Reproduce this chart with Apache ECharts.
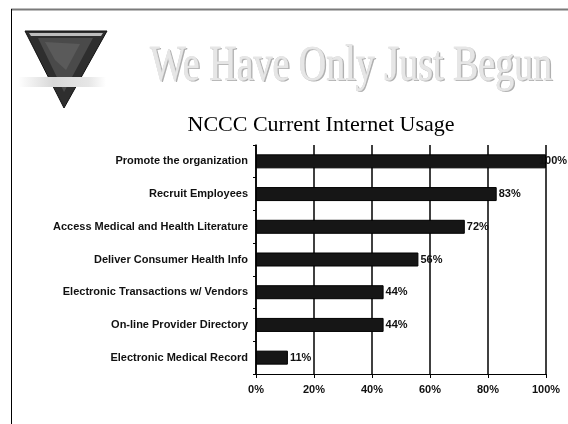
<!DOCTYPE html>
<html><head><meta charset="utf-8">
<script src="https://cdn.jsdelivr.net/npm/echarts@6/dist/echarts.min.js"></script>
<style>html,body{margin:0;padding:0;background:#fff}#c{width:568px;height:424px}</style>
</head><body><div id="c"></div>
<script>
const categories = ["Promote the organization","Recruit Employees","Access Medical and Health Literature","Deliver Consumer Health Info","Electronic Transactions w/ Vendors","On-line Provider Directory","Electronic Medical Record"];
const values = [100, 83, 72, 56, 44, 44, 11];
const xTicks = [0, 20, 40, 60, 80, 100];
const headline = "We Have Only Just Begun";
const chartTitle = "NCCC Current Internet Usage";

const chart = echarts.init(document.getElementById('c'), null, {renderer:'canvas'});
const lab = {fontFamily:'"Liberation Sans", Arial, sans-serif', fontWeight:'bold', fontSize:11, color:'#111'};
const serif = '"Liberation Serif", "Times New Roman", serif';
const seriesData = values.map((v, i) => i === 0 ? {value:v, label:{offset:[-9,0]}} : v);
chart.setOption({
  animation:false,
  backgroundColor:'#fff',
  grid:{left:256, right:22, top:145, bottom:50, containLabel:false},
  xAxis:{type:'value', min:xTicks[0], max:xTicks[xTicks.length-1], interval:20,
    axisLine:{show:true, lineStyle:{color:'#000', width:1}},
    axisTick:{show:true, length:4, lineStyle:{color:'#000'}},
    axisLabel:Object.assign({formatter:v=>v+'%', margin:10}, lab),
    splitLine:{show:true, lineStyle:{color:'#000', width:1.5}}},
  yAxis:{type:'category', data:categories, inverse:true,
    axisLine:{show:true, lineStyle:{color:'#000', width:1.5}},
    axisTick:{show:true, length:3, lineStyle:{color:'#000'}},
    axisLabel:Object.assign({margin:8}, lab)},
  series:[{type:'bar', data:seriesData, barWidth:14,
    itemStyle:{color:'#161616', borderColor:'#000', borderWidth:1},
    label:Object.assign({show:true, position:'right', distance:2, formatter:p=>p.value+'%'}, lab)}],
  graphic:[
    {type:'line', shape:{x1:11, y1:9.5, x2:568, y2:9.5}, style:{stroke:'#7a7a7a', lineWidth:2}},
    {type:'line', shape:{x1:11.5, y1:9, x2:11.5, y2:424}, style:{stroke:'#000', lineWidth:1}},
    {type:'polygon', shape:{points:[[25,31],[107,31],[64,108]]}, style:{fill:'#2e2e2e', stroke:'#111', lineWidth:1}},
    {type:'polygon', shape:{points:[[29,33],[103,33],[101,36],[31,36]]}, style:{fill:'#bdbdbd'}},
    {type:'polygon', shape:{points:[[38,38],[93,38],[64,92]]}, style:{fill:'#4a4a4a'}},
    {type:'polygon', shape:{points:[[45,42],[80,44],[66,70],[55,60]]}, style:{fill:'#5e5e5e', opacity:0.8}},
    {type:'rect', shape:{x:18, y:77, width:88, height:10}, style:{fill:{type:'linear', x:0, y:0, x2:1, y2:0,
      colorStops:[{offset:0,color:'#ffffff'},{offset:0.4,color:'#d8d8d8'},{offset:0.8,color:'#e6e6e6'},{offset:1,color:'#ffffff'}]}}},
    {type:'text', x:151.5, y:67.5, scaleY:1.36, originX:0, originY:0,
      style:{text:headline, fontFamily:serif, fontSize:38, fill:'#b0b0b0', verticalAlign:'middle', align:'left'}},
    {type:'text', x:150, y:66, scaleY:1.36, originX:0, originY:0,
      style:{text:headline, fontFamily:serif, fontSize:38, fill:'#e6e6e6', stroke:'#d0d0d0', lineWidth:0.5, verticalAlign:'middle', align:'left'}},
    {type:'text', x:321, y:125, style:{text:chartTitle, fontFamily:serif, fontSize:22, fill:'#000', align:'center', verticalAlign:'middle'}}
  ]
});
</script></body></html>
